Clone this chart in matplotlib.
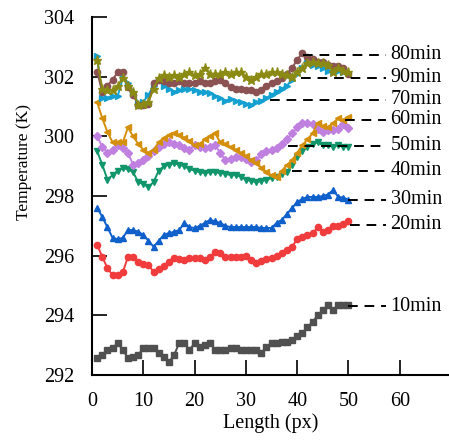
import matplotlib
matplotlib.use("Agg")
import matplotlib.pyplot as plt
import numpy as np

plt.rcParams["font.family"] = ["Liberation Serif", "DejaVu Serif"]

# в”Җв”Җ data: temperature profiles along the line, one per time step в”Җв”Җ
length = np.arange(1, 51)

t10 = [292.57, 292.67, 292.84, 292.90, 293.07, 292.84, 292.57, 292.60, 292.67, 292.90,
       292.90, 292.90, 292.74, 292.60, 292.44, 292.67, 293.07, 293.07, 292.84, 293.07,
       292.94, 293.00, 293.07, 292.84, 292.84, 292.84, 292.90, 292.90, 292.84, 292.84,
       292.84, 292.84, 292.74, 292.94, 293.07, 293.07, 293.10, 293.10, 293.17, 293.30,
       293.40, 293.60, 293.78, 294.00, 294.18, 294.35, 294.18, 294.35, 294.35, 294.35]
t20 = [296.36, 295.96, 295.58, 295.35, 295.35, 295.45, 295.96, 295.96, 295.80, 295.72,
       295.70, 295.45, 295.55, 295.65, 295.78, 295.92, 295.88, 295.85, 295.92, 295.92,
       295.92, 295.85, 295.95, 296.12, 296.10, 295.96, 295.96, 295.96, 295.96, 296.00,
       295.85, 295.75, 295.82, 295.88, 295.92, 296.00, 296.10, 296.20, 296.30, 296.55,
       296.63, 296.70, 296.75, 296.95, 296.80, 296.85, 297.00, 297.00, 297.05, 297.15]
t30 = [297.60, 297.30, 296.95, 296.60, 296.55, 296.60, 296.86, 296.86, 296.80, 296.70,
       296.50, 296.30, 296.50, 296.70, 296.76, 296.80, 296.86, 297.10, 296.95, 296.93,
       297.00, 297.10, 297.20, 297.15, 297.10, 297.00, 296.96, 296.96, 296.96, 296.96,
       296.96, 296.96, 296.93, 296.93, 296.93, 297.10, 297.20, 297.40, 297.60, 297.80,
       297.90, 297.97, 297.97, 297.97, 298.00, 298.05, 298.20, 297.97, 297.95, 297.87]
t40 = [299.50, 299.05, 298.55, 298.70, 298.85, 298.94, 298.90, 298.80, 298.47, 298.40,
       298.30, 298.47, 298.85, 299.00, 299.05, 299.10, 299.05, 299.00, 298.90, 298.85,
       298.80, 298.77, 298.80, 298.80, 298.77, 298.75, 298.70, 298.70, 298.65, 298.55,
       298.50, 298.47, 298.50, 298.54, 298.60, 298.65, 298.75, 298.80, 299.05, 299.30,
       299.50, 299.65, 299.75, 299.80, 299.70, 299.70, 299.65, 299.70, 299.65, 299.65]
t50 = [300.00, 299.65, 299.45, 299.55, 299.70, 299.60, 299.45, 299.05, 299.10, 299.20,
       299.35, 299.50, 299.65, 299.75, 299.80, 299.75, 299.70, 299.60, 299.55, 299.70,
       299.65, 299.60, 299.65, 299.70, 299.45, 299.20, 299.25, 299.30, 299.30, 299.25,
       299.15, 299.20, 299.40, 299.50, 299.55, 299.60, 299.75, 299.90, 300.10, 300.30,
       300.45, 300.45, 300.40, 300.25, 300.15, 300.20, 300.20, 300.25, 300.40, 300.28]
t60 = [301.15, 300.60, 300.15, 299.80, 299.80, 299.80, 300.30, 300.00, 299.75, 299.55,
       299.45, 299.55, 299.80, 299.95, 300.05, 300.10, 300.05, 299.95, 299.85, 299.70,
       299.75, 299.90, 300.00, 300.10, 299.80, 299.75, 299.65, 299.55, 299.45, 299.35,
       299.20, 299.10, 298.95, 298.80, 298.70, 298.64, 298.85, 299.04, 299.20, 299.45,
       299.70, 299.90, 300.10, 300.45, 300.35, 300.30, 300.45, 300.60, 300.55, 300.65]
t70 = [302.69, 301.30, 301.30, 301.35, 301.35, 301.96, 301.80, 301.50, 301.10, 301.15,
       301.40, 301.70, 301.90, 301.70, 301.60, 301.50, 301.55, 301.60, 301.60, 301.55,
       301.50, 301.50, 301.45, 301.35, 301.30, 301.20, 301.25, 301.20, 301.15, 301.10,
       301.05, 301.15, 301.20, 301.29, 301.40, 301.50, 301.60, 301.70, 301.90, 302.10,
       302.30, 302.46, 302.40, 302.35, 302.30, 302.20, 302.20, 302.20, 302.15, 302.15]
t80 = [302.15, 301.50, 301.70, 301.90, 302.15, 302.15, 301.65, 301.40, 301.05, 301.05,
       301.10, 301.80, 301.90, 301.85, 301.80, 301.80, 301.85, 301.80, 301.80, 301.80,
       301.85, 301.80, 301.80, 301.85, 301.90, 301.80, 301.65, 301.60, 301.60, 301.55,
       301.55, 301.50, 301.55, 301.70, 301.80, 301.85, 301.95, 302.10, 302.30, 302.56,
       302.80, 302.65, 302.60, 302.50, 302.50, 302.40, 302.36, 302.35, 302.30, 302.10]
t90 = [302.55, 301.60, 301.55, 301.55, 301.70, 301.96, 301.70, 301.50, 301.05, 301.10,
       301.15, 301.60, 301.96, 302.05, 302.00, 302.06, 302.00, 302.10, 302.15, 302.05,
       302.10, 302.30, 302.10, 302.10, 302.10, 302.15, 302.10, 302.15, 302.15, 302.00,
       301.90, 302.00, 302.10, 302.10, 302.15, 302.15, 302.10, 302.05, 302.00, 302.15,
       302.30, 302.45, 302.50, 302.45, 302.45, 302.40, 302.15, 302.30, 302.20, 302.15]

names = ["10min", "20min", "30min", "40min", "50min", "60min", "70min", "80min", "90min"]
series = [t10, t20, t30, t40, t50, t60, t70, t80, t90]
colors = ["#505050", "#f03c3c", "#1060cc", "#10966a", "#c080e0",
          "#d4900c", "#14a0d0", "#8a5252", "#8a8a14"]
markers = ["s", "o", "^", "v", "D", "<", ">", "o", "*"]

# dashed leader lines: start x, level y
lead_x0 = [49.9, 50.3, 49.9, 39.0, 38.2, 49.3, 34.7, 41.1, 40.8]
lead_y = [294.31, 297.03, 297.87, 298.85, 299.68, 300.55, 301.22, 302.73, 301.96]
lead_x1 = 57.3

fig = plt.figure(figsize=(4.49, 4.43), dpi=100)
ax = fig.add_axes([0.205, 0.1535, 0.795, 0.808])

for y, c, mk in zip(series, colors, markers):
    ms = {"*": 6.5, "s": 5}.get(mk, 4.5)
    ax.plot(length, y, color=c, marker=mk, markersize=ms, linewidth=1.4)

for name, x0, yl in zip(names, lead_x0, lead_y):
    ax.plot([x0, lead_x1], [yl, yl], color="black", linewidth=1.4,
            linestyle=(0, (5, 3.5)))
    ax.text(lead_x1 + 0.9, yl, name, fontsize=14.5, va="center", ha="left")

ax.set_xlim(0, 69.6)
ax.set_ylim(292, 304)
ax.set_xticks(np.arange(0, 61, 10))
ax.set_yticks(np.arange(292, 305, 2))
ax.tick_params(direction="in", length=11, width=1.2, labelsize=14.5)
ax.tick_params(axis="y", pad=13)
ax.tick_params(axis="x", pad=12)
for s in ["top", "right"]:
    ax.spines[s].set_visible(False)
for s in ["left", "bottom"]:
    ax.spines[s].set_linewidth(1.5)

ax.set_xlabel("Length (px)", fontsize=14.5)
ax.set_ylabel("Temperature (K)", fontsize=12.5)
ax.xaxis.set_label_coords(0.5, -0.106)
ax.yaxis.set_label_coords(-0.168, 0.595)

fig.savefig("out.png", dpi=100)
